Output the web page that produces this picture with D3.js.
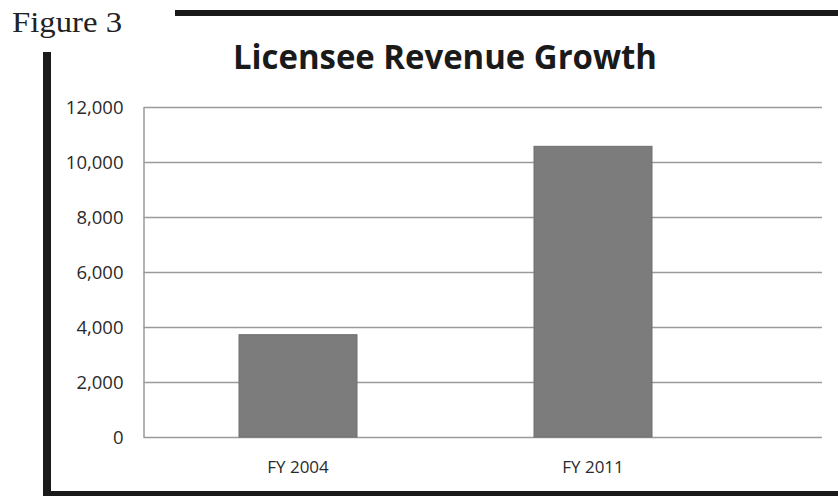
<!DOCTYPE html>
<html>
<head>
    <meta charset="utf-8">
    <title>Licensee Revenue Growth</title>
    <script src="https://cdn.jsdelivr.net/npm/d3@7"></script>
    <style type="text/css">
        body { margin: 0; background: #fff; }
        svg { display: block; }
    </style>
</head>
<body>
<svg id="chart" width="838" height="496"></svg>
<script type="text/javascript">
    // data
    var categories = ["FY 2004", "FY 2011"];
    var revenue = [3720, 10570];
    var yTicks = [0, 2000, 4000, 6000, 8000, 10000, 12000];

    var svg = d3.select("#chart");

    // frame of the figure (thick black rules)
    svg.append("rect").attr("x", 175).attr("y", 10).attr("width", 663).attr("height", 6).attr("fill", "#1a1a1a");
    svg.append("rect").attr("x", 43).attr("y", 52).attr("width", 8).attr("height", 444).attr("fill", "#1a1a1a");
    svg.append("rect").attr("x", 43).attr("y", 491).attr("width", 795).attr("height", 5).attr("fill", "#1a1a1a");

    svg.append("text")
        .attr("x", 12).attr("y", 32)
        .attr("font-family", "Liberation Serif, Times New Roman, serif")
        .attr("font-size", 29)
        .attr("fill", "#222")
        .attr("textLength", 110).attr("lengthAdjust", "spacingAndGlyphs")
        .text("Figure 3");

    svg.append("text")
        .attr("x", 233).attr("y", 69)
        .attr("font-family", "Open Sans, sans-serif")
        .attr("font-weight", "bold")
        .attr("font-size", 34)
        .attr("fill", "#1a1a1a")
        .attr("textLength", 424).attr("lengthAdjust", "spacingAndGlyphs")
        .text("Licensee Revenue Growth");

    // plot area (don't use "top" as a global name, it is window.top)
    var plotLeft = 143.5, plotRight = 822, plotTop = 107, plotBottom = 437;

    var y = d3.scaleLinear().domain([0, 12000]).range([plotBottom, plotTop]);
    var x = d3.scaleBand().domain(categories).range([150.5, 740.5])
        .paddingInner(0.6).paddingOuter(0.3);

    // gridlines
    svg.append("g").selectAll("line")
        .data(yTicks)
        .enter().append("line")
        .attr("x1", plotLeft).attr("x2", plotRight)
        .attr("y1", function (d) { return Math.round(y(d)) + 0.5; })
        .attr("y2", function (d) { return Math.round(y(d)) + 0.5; })
        .attr("stroke", "#9a9a9a")
        .attr("stroke-width", 1.5);

    // y axis
    var yAxis = d3.axisLeft(y).tickValues(yTicks).tickSize(0).tickPadding(20)
        .tickFormat(d3.format(","));
    var gy = svg.append("g").attr("transform", "translate(" + plotLeft + ",0)").call(yAxis);
    gy.select(".domain").attr("stroke", "#9a9a9a").attr("stroke-width", 1.5);
    gy.selectAll("text")
        .attr("font-family", "Open Sans, sans-serif")
        .attr("font-size", 18.5)
        .attr("fill", "#2a2a2a")
        .attr("dy", "0.35em");

    // bars
    svg.append("g").selectAll("rect")
        .data(revenue)
        .enter().append("rect")
        .attr("x", function (d, i) { return x(categories[i]); })
        .attr("y", function (d) { return y(d); })
        .attr("width", x.bandwidth())
        .attr("height", function (d) { return plotBottom - y(d); })
        .attr("fill", "#7c7c7c")
        .attr("stroke", "#6e6e6e")
        .attr("stroke-width", 1);

    // x axis labels
    var xAxis = d3.axisBottom(x).tickSize(0).tickPadding(24);
    var gx = svg.append("g").attr("transform", "translate(0," + plotBottom + ")").call(xAxis);
    gx.select(".domain").remove();
    gx.selectAll("text")
        .attr("font-family", "Open Sans, sans-serif")
        .attr("font-size", 17)
        .attr("fill", "#2a2a2a");
</script>
</body>
</html>
